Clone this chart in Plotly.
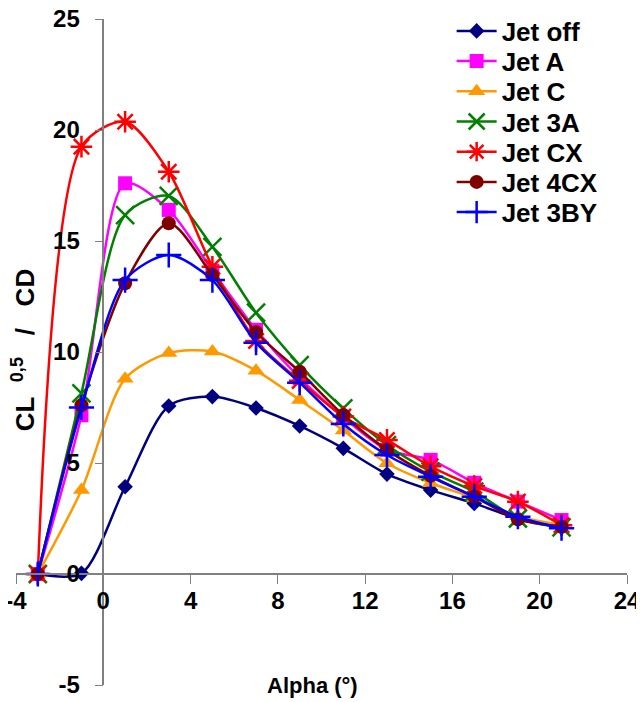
import plotly.graph_objects as go

alpha = [-3, -1, 1, 3, 5, 7, 9, 11, 13, 15, 17, 19, 21]

jet_off = [0.0, 0.03, 3.93, 7.57, 7.99, 7.48, 6.67, 5.66, 4.5, 3.78, 3.18, 2.5, 2.1]
jet_a = [0.0, 7.15, 17.6, 16.4, 13.66, 11.0, 8.83, 7.06, 5.6, 5.14, 4.11, 3.26, 2.43]
jet_c = [0.0, 3.78, 8.8, 9.95, 10.02, 9.16, 7.84, 6.46, 4.99, 4.1, 3.42, 2.6, 2.2]
jet_3a = [0.0, 8.14, 16.17, 17.03, 14.74, 11.77, 9.41, 7.46, 5.81, 4.61, 3.71, 2.5, 2.1]
jet_cx = [0.0, 19.25, 20.37, 18.12, 13.84, 10.5, 8.7, 7.09, 6.04, 4.85, 3.96, 3.26, 2.2]
jet_4cx = [0.0, 7.6, 13.1, 15.8, 13.47, 10.89, 9.11, 7.16, 5.59, 4.42, 3.48, 2.46, 2.13]
jet_3by = [0.0, 7.5, 13.24, 14.37, 13.24, 10.42, 8.62, 6.76, 5.36, 4.38, 3.48, 2.58, 2.06]

series_names = ["Jet off", "Jet A", "Jet C", "Jet 3A", "Jet CX", "Jet 4CX", "Jet 3BY"]
series_values = [jet_off, jet_a, jet_c, jet_3a, jet_cx, jet_4cx, jet_3by]
colors = ["#000080", "#FF00FF", "#FF9900", "#008000", "#FF0000", "#800000", "#0000FF"]
symbols = ["diamond", "square", "triangle-up", "x-thin-open", "asterisk-open", "circle", "cross-thin-open"]
sizes = [12, 14, 15, 18, 18, 14, 18]

x_ticks = [-4, 0, 4, 8, 12, 16, 20, 24]
y_ticks = [-5, 0, 5, 10, 15, 20, 25]

FONT = "Liberation Sans, Arial, sans-serif"
LEG_FONT = dict(family=FONT, size=26, color="black", weight="bold")

fig = go.Figure()
legend_layout = {}
for i, (name, vals, c, s, sz) in enumerate(zip(series_names, series_values, colors, symbols, sizes)):
    open_sym = s.endswith("open")
    lname = "legend" if i == 0 else f"legend{i + 1}"
    fig.add_trace(go.Scatter(
        x=alpha, y=vals, name=name, mode="lines+markers", legend=lname,
        line=dict(color=c, width=2.5, shape="spline", smoothing=0.8),
        marker=dict(symbol=s, size=sz, color=c,
                    line=dict(color=c, width=2.5 if open_sym else 0)),
    ))
    # entry centre in figure pixels, spaced ~30 px apart
    fy = 23 + i * 30.2
    legend_layout[lname] = dict(
        x=0.713, y=(677 - fy) / 666, xanchor="left", yanchor="middle",
        font=LEG_FONT, bgcolor="rgba(0,0,0,0)", itemwidth=40,
    )

fig.update_layout(
    width=644, height=702,
    margin=dict(l=8, r=25, t=11, b=25, autoexpand=False),
    paper_bgcolor="white", plot_bgcolor="white",
    showlegend=True,
    xaxis=dict(range=[-4, 24], tickvals=x_ticks, ticktext=[str(v) for v in x_ticks],
               anchor="free", position=5/30, showline=True, linecolor="#808080",
               linewidth=1.5, ticks="outside", ticklen=9, tickcolor="#808080",
               showgrid=False, zeroline=False, ticklabelstandoff=-4,
               ticklabeloverflow="allow",
               tickfont=dict(family=FONT, size=24, color="black", weight="bold")),
    yaxis=dict(range=[-5, 25], tickvals=y_ticks, ticktext=[str(v) for v in y_ticks],
               anchor="free", position=4/28, showline=True, linecolor="#808080",
               linewidth=1.5, ticks="outside", ticklen=8, tickcolor="#808080",
               showgrid=False, zeroline=False, ticklabelstandoff=10,
               ticklabeloverflow="allow",
               tickfont=dict(family=FONT, size=24, color="black", weight="bold")),
    annotations=[
        dict(text="Alpha (°)", xref="paper", yref="paper", x=0.486, y=0.0,
             xanchor="center", yanchor="middle", showarrow=False,
             font=dict(family=FONT, size=22, color="black", weight="bold")),
        dict(text="CL&nbsp; <sup>0,5</sup>&nbsp;&nbsp; / &nbsp;&nbsp;CD", xref="paper", yref="paper",
             x=0.0115, y=0.5025,
             xanchor="center", yanchor="middle", showarrow=False, textangle=-90,
             font=dict(family=FONT, size=26, color="black", weight="bold")),
    ],
    **legend_layout,
)

fig.write_html("out.html")
